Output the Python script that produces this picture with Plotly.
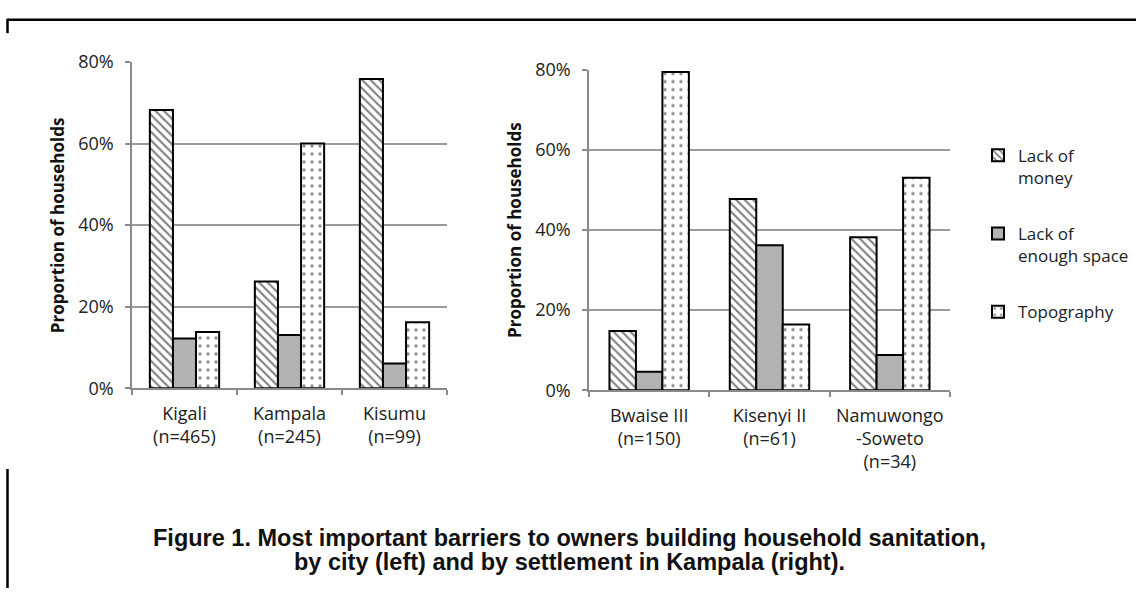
import plotly.graph_objects as go

W, H = 1136, 599

series = ["Lack of<br>money", "Lack of<br>enough space", "Topography"]

city_labels = ["Kigali<br>(n=465)", "Kampala<br>(n=245)", "Kisumu<br>(n=99)"]
city_money = [0.682, 0.262, 0.758]
city_space = [0.122, 0.131, 0.061]
city_topo = [0.138, 0.600, 0.162]

settle_labels = ["Bwaise III<br>(n=150)", "Kisenyi II<br>(n=61)", "Namuwongo<br>-Soweto<br>(n=34)"]
settle_money = [0.148, 0.477, 0.382]
settle_space = [0.046, 0.362, 0.088]
settle_topo = [0.794, 0.164, 0.530]

y_ticks = [0, 0.2, 0.4, 0.6, 0.8]
y_ticktext = ["0%", "20%", "40%", "60%", "80%"]
caption_lines = ["Figure 1. Most important barriers to owners building household sanitation,",
                 "by city (left) and by settlement in Kampala (right)."]
y_title = "Proportion of households"

FONT = "Open Sans"
styles = [
    dict(color="white", pattern=dict(shape="\\", fgcolor="black", bgcolor="white", size=6, solidity=0.35)),
    dict(color="#b2b2b2"),
    dict(color="white", pattern=dict(shape=".", fgcolor="#222222", bgcolor="white", size=8, solidity=0.14)),
]

fig = go.Figure()
left_vals = [city_money, city_space, city_topo]
right_vals = [settle_money, settle_space, settle_topo]
for i, name in enumerate(series):
    fig.add_trace(go.Bar(
        x=city_labels, y=left_vals[i], name=name, legendgroup=f"g{i}",
        marker=dict(**styles[i], line=dict(color="black", width=2)),
        xaxis="x", yaxis="y", showlegend=True,
    ))
    fig.add_trace(go.Bar(
        x=settle_labels, y=right_vals[i], name=name, legendgroup=f"g{i}",
        marker=dict(**styles[i], line=dict(color="black", width=2)),
        xaxis="x2", yaxis="y2", showlegend=False,
    ))

def px(x):
    return x / W

def py(y):
    return 1 - y / H

axis_common = dict(
    showline=True, linecolor="#8a8a8a", linewidth=1.5,
    ticks="outside", tickcolor="#8a8a8a", ticklen=5, tickwidth=1.5,
    tickfont=dict(family=FONT, size=18, color="#222222"),
    ticklabelstandoff=8,
)

fig.update_layout(
    width=W, height=H,
    margin=dict(l=0, r=0, t=0, b=0),
    paper_bgcolor="white", plot_bgcolor="white",
    barmode="group", bargroupgap=0,
    font=dict(family=FONT, size=18, color="#222222"),
    xaxis=dict(domain=[px(132), px(447)], anchor="y", tickson="boundaries", **axis_common),
    yaxis=dict(domain=[py(391), py(51)], anchor="x", range=[0, 0.8],
               tickvals=y_ticks, ticktext=y_ticktext,
               showgrid=True, gridcolor="#9a9a9a", gridwidth=1.5, zeroline=False, **axis_common),
    xaxis2=dict(domain=[px(589), px(950)], anchor="y2", tickson="boundaries", **axis_common),
    yaxis2=dict(domain=[py(393), py(59)], anchor="x2", range=[0, 0.8],
                tickvals=y_ticks, ticktext=y_ticktext,
                showgrid=True, gridcolor="#9a9a9a", gridwidth=1.5, zeroline=False, **axis_common),
    bargap=0.34,
    legend=dict(x=px(978), y=py(130), xanchor="left", yanchor="top",
                font=dict(family=FONT, size=17, color="#222222"),
                tracegroupgap=31, valign="top", itemwidth=30,
                bgcolor="rgba(0,0,0,0)"),
    showlegend=True,
)

annotations = [
    dict(text=f"<b>{y_title}</b>", x=px(57), y=py(221), xref="paper", yref="paper",
         xanchor="center", yanchor="middle",
         textangle=-90, showarrow=False, font=dict(family=FONT, size=17, color="#111111")),
    dict(text=f"<b>{y_title}</b>", x=px(515), y=py(226), xref="paper", yref="paper",
         xanchor="center", yanchor="middle",
         textangle=-90, showarrow=False, font=dict(family=FONT, size=17, color="#111111")),
    dict(text=f"<b>{caption_lines[0]}</b>", x=px(569), y=py(547), xref="paper", yref="paper",
         xanchor="center", yanchor="middle", showarrow=False,
         font=dict(family="Liberation Sans", size=23.5, color="#111111")),
    dict(text=f"<b>{caption_lines[1]}</b>", x=px(569), y=py(572), xref="paper", yref="paper",
         xanchor="center", yanchor="middle", showarrow=False,
         font=dict(family="Liberation Sans", size=23.5, color="#111111")),
]
fig.update_layout(annotations=annotations)

line = dict(color="black", width=2.5)
shapes = [
    dict(type="line", xref="paper", yref="paper", x0=px(7.5), x1=1, y0=py(7), y1=py(7), line=line),
    dict(type="line", xref="paper", yref="paper", x0=px(7.5), x1=px(7.5), y0=py(6), y1=py(21), line=line),
    dict(type="line", xref="paper", yref="paper", x0=px(7.5), x1=px(7.5), y0=py(475), y1=0, line=line),
]
fig.update_layout(shapes=shapes)

fig.write_html(
    "out.html",
    post_script="document.body.style.margin='0';document.body.style.padding='0';"
                "document.documentElement.style.margin='0';",
)
